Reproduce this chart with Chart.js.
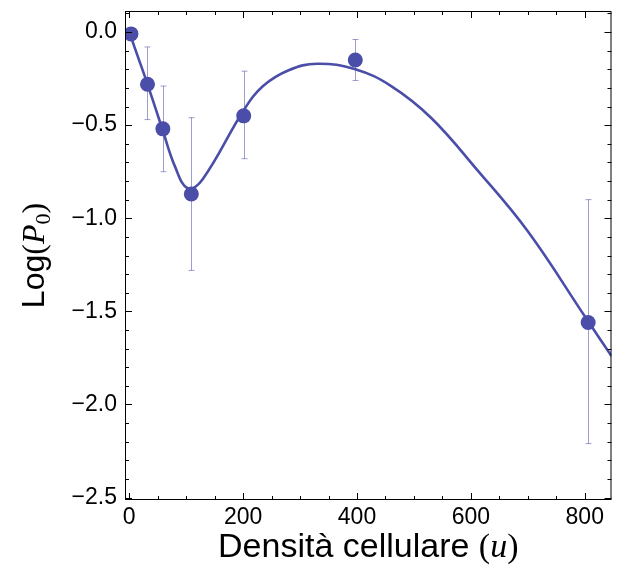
<!DOCTYPE html>
<html>
<head>
<meta charset="utf-8">
<script src="https://cdn.jsdelivr.net/npm/chart.js@4.4.1/dist/chart.umd.min.js"></script>
<style>
  html, body { margin: 0; padding: 0; background: #ffffff; }
  #wrap { width: 619px; height: 572px; }
</style>
</head>
<body>
<div id="wrap"><canvas id="probChart" width="619" height="572"></canvas></div>
<script>
// Measured points (cell density vs Log(P0))
const densita = [3, 32, 59, 109, 201, 397, 806];
const logP0 = [-0.01, -0.28, -0.52, -0.87, -0.45, -0.15, -1.56];
const errHigh = [-0.01, -0.08, -0.29, -0.46, -0.21, -0.04, -0.90];
const errLow = [-0.01, -0.47, -0.75, -1.28, -0.68, -0.26, -2.21];

// Fitted curve
const fitX = [0, 16, 32, 59, 80, 103, 129, 201, 235, 280, 330, 397, 460, 530, 611, 700, 803, 847];
const fitY = [0.0, -0.14, -0.28, -0.53, -0.72, -0.84, -0.79, -0.42, -0.29, -0.205, -0.17, -0.20, -0.29, -0.46, -0.74, -1.07, -1.54, -1.74];

// Axis ticks
const xTicks = [0, 200, 400, 600, 800];
const yTicks = [0, -0.5, -1.0, -1.5, -2.0, -2.5];

const BLUE = '#4b4ea8';
const SANS = '"Liberation Sans", Arial, sans-serif';
const SERIF = '"Liberation Serif", "Times New Roman", serif';

// Error bars behind the markers
const errorBarPlugin = {
    id: 'errorBars',
    beforeDatasetsDraw(chart) {
        const ctx = chart.ctx;
        const xs = chart.scales.x, ys = chart.scales.y;
        ctx.save();
        ctx.strokeStyle = 'rgba(75, 78, 168, 0.55)';
        ctx.lineWidth = 1;
        densita.forEach((d, i) => {
            const px = Math.round(xs.getPixelForValue(d)) + 0.5;
            const top = ys.getPixelForValue(errHigh[i]);
            const bot = ys.getPixelForValue(errLow[i]);
            if (bot - top < 2) return;
            ctx.beginPath();
            ctx.moveTo(px, top); ctx.lineTo(px, bot);
            ctx.moveTo(px - 3, top); ctx.lineTo(px + 3, top);
            ctx.moveTo(px - 3, bot); ctx.lineTo(px + 3, bot);
            ctx.stroke();
        });
        ctx.restore();
    }
};

// Mathematica-like frame with inward ticks, plus the axis titles
const framePlugin = {
    id: 'frame',
    afterDraw(chart) {
        const ctx = chart.ctx;
        const a = chart.chartArea;
        const xs = chart.scales.x, ys = chart.scales.y;
        ctx.save();
        ctx.strokeStyle = '#000';
        ctx.lineWidth = 1;
        ctx.strokeRect(a.left + 0.5, a.top + 0.5, a.right - a.left - 1, a.bottom - a.top - 1);

        ctx.beginPath();
        for (let v = 0; v <= 850; v += 50) {
            const px = Math.round(xs.getPixelForValue(v)) + 0.5;
            if (px < a.left || px > a.right) continue;
            const len = v % 200 === 0 ? 7 : 4;
            ctx.moveTo(px, a.bottom); ctx.lineTo(px, a.bottom - len);
            ctx.moveTo(px, a.top); ctx.lineTo(px, a.top + len);
        }
        for (let k = 1; k >= -25; k--) {
            const v = k / 10;
            const py = Math.round(ys.getPixelForValue(v)) + 0.5;
            if (py < a.top + 2 || py > a.bottom) continue;
            const len = k % 5 === 0 ? 7 : 4;
            ctx.moveTo(a.left, py); ctx.lineTo(a.left + len, py);
            ctx.moveTo(a.right, py); ctx.lineTo(a.right - len, py);
        }
        ctx.stroke();

        // x title: "Densità cellulare (u)"
        ctx.fillStyle = '#000';
        ctx.textBaseline = 'alphabetic';
        const parts = [
            { t: 'Densità cellulare ', f: '34px ' + SANS },
            { t: '(', f: '34px ' + SERIF },
            { t: 'u', f: 'italic 34px ' + SERIF },
            { t: ')', f: '34px ' + SERIF }
        ];
        let w = 0;
        parts.forEach(p => { ctx.font = p.f; w += ctx.measureText(p.t).width; });
        let x = (a.left + a.right) / 2 - w / 2;
        parts.forEach(p => {
            ctx.font = p.f;
            ctx.fillText(p.t, x, 557);
            x += ctx.measureText(p.t).width;
        });

        // y title: "Log(P0)" rotated
        ctx.translate(44, (a.top + a.bottom) / 2);
        ctx.rotate(-Math.PI / 2);
        const yparts = [
            { t: 'Log', f: '32px ' + SANS, dy: 0 },
            { t: '(', f: '32px ' + SERIF, dy: 0 },
            { t: 'P', f: 'italic 32px ' + SERIF, dy: 0 },
            { t: '0', f: '22px ' + SERIF, dy: 6 },
            { t: ')', f: '32px ' + SERIF, dy: 0 }
        ];
        w = 0;
        yparts.forEach(p => { ctx.font = p.f; w += ctx.measureText(p.t).width; });
        x = -w / 2;
        yparts.forEach(p => {
            ctx.font = p.f;
            ctx.fillText(p.t, x, p.dy);
            x += ctx.measureText(p.t).width;
        });
        ctx.restore();
    }
};

function formatY(v) {
    if (Math.abs(v) < 1e-9) return '0.0';
    return '\u2212' + Math.abs(v).toFixed(1);
}

function createChart() {
    const ctx = document.getElementById('probChart').getContext('2d');

    new Chart(ctx, {
        type: 'scatter',
        data: {
            datasets: [{
                label: 'Dati',
                data: densita.map((d, i) => ({ x: d, y: logP0[i] })),
                backgroundColor: BLUE,
                borderWidth: 0,
                pointRadius: 7.5,
                order: 0
            }, {
                type: 'line',
                label: 'Fit',
                data: fitX.map((d, i) => ({ x: d, y: fitY[i] })),
                borderColor: BLUE,
                borderWidth: 2.6,
                pointRadius: 0,
                fill: false,
                tension: 0.4,
                order: 1
            }]
        },
        options: {
            responsive: false,
            animation: false,
            layout: { padding: { top: 11, right: 4, left: 0, bottom: 0 } },
            plugins: {
                legend: { display: false },
                tooltip: { enabled: false }
            },
            scales: {
                x: {
                    type: 'linear',
                    min: -7.5,
                    max: 847,
                    grid: { display: false, drawTicks: false },
                    border: { display: false },
                    afterFit: s => { s.height = 72; s.paddingLeft = 0; s.paddingRight = 0; },
                    afterBuildTicks: s => { s.ticks = xTicks.map(v => ({ value: v })); },
                    ticks: {
                        color: '#000',
                        padding: 4,
                        maxRotation: 0,
                        font: { family: SANS, size: 23 },
                        callback: v => String(v)
                    }
                },
                y: {
                    type: 'linear',
                    min: -2.513,
                    max: 0.113,
                    grid: { display: false, drawTicks: false },
                    border: { display: false },
                    afterFit: s => { s.width = 125; s.paddingTop = 0; s.paddingBottom = 0; },
                    afterBuildTicks: s => { s.ticks = yTicks.map(v => ({ value: v })); },
                    ticks: {
                        color: '#000',
                        padding: 8,
                        font: { family: SANS, size: 23 },
                        callback: v => formatY(v)
                    }
                }
            }
        },
        plugins: [errorBarPlugin, framePlugin]
    });
}

document.addEventListener('DOMContentLoaded', createChart);
</script>
</body>
</html>
